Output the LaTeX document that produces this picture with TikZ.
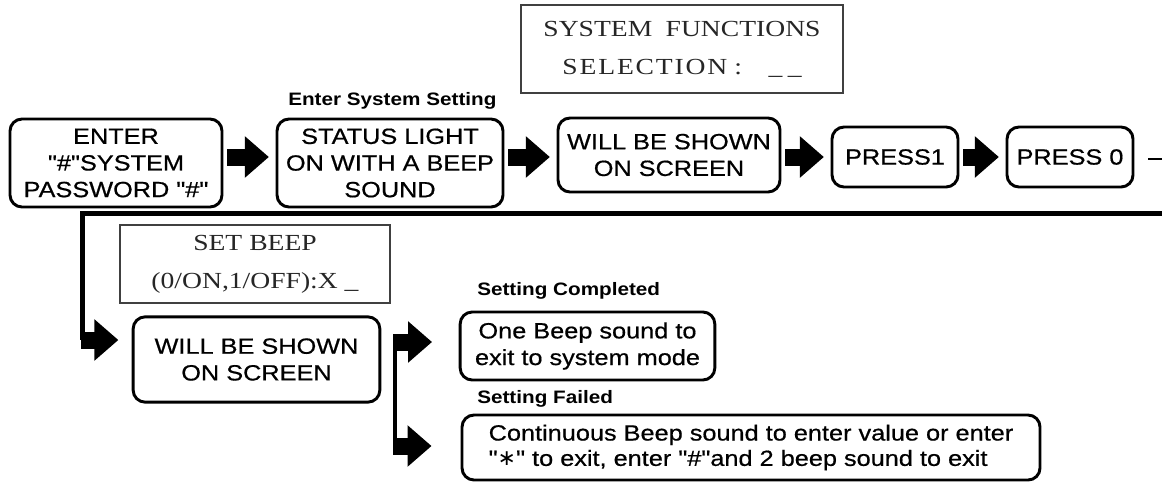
\documentclass[tikz,border=0pt]{standalone}
\usepackage{fontspec}
\usetikzlibrary{arrows.meta,calc}
\newfontfamily\boxfont[FakeStretch=1.15,FakeBold=0.6]{Liberation Sans}
\newfontfamily\labelfont[FakeStretch=1.15]{Liberation Sans}
\newfontfamily\lcdfont[FakeStretch=1.2]{Liberation Serif}
\newfontfamily\starfont{DejaVu Sans}
\tikzset{
  rbox/.style={draw, line width=2.2pt, rounded corners=9pt, inner sep=0pt, align=center,
    font=\boxfont\fontsize{16.5}{20}\selectfont},
  lcdbox/.style={draw=black!75, line width=1.1pt, inner sep=0pt, align=center,
    text=black!85, font=\lcdfont\fontsize{17.25}{28.5}\selectfont},
  steplabel/.style={anchor=base west, inner sep=0pt,
    font=\labelfont\bfseries\fontsize{13.5}{16}\selectfont},
  fatarrow/.style={line width=12.75pt, -{Triangle[length=18pt,width=30pt]},
    shorten <=3pt, shorten >=5pt},
  wire/.style={line width=3.5pt},
}
\begin{document}
\begin{tikzpicture}[x=0.75pt, y=-0.75pt]
  \useasboundingbox (0,0) rectangle (1162,482);
  % screen texts
  \node [lcdbox, minimum width=241.5pt, minimum height=66pt] (sel) at (682,49)
    {SYSTEM\hspace{10pt}FUNCTIONS\\{\addfontfeature{LetterSpace=8}SELECTION} :\hspace{20pt}\_\hspace{4pt}\_};
  \node [lcdbox, minimum width=202.5pt, minimum height=58.5pt] (setb) at (255,264)
    {SET BEEP\\(0/ON,1/OFF):X \_};
  % top row
  \node [rbox, minimum width=159pt, minimum height=66pt] (b1) at (116,163)
    {ENTER\\"\#"SYSTEM\\PASSWORD "\#"};
  \node [rbox, minimum width=169.5pt, minimum height=66pt] (b2) at (390,163)
    {STATUS LIGHT\\ON WITH A BEEP\\SOUND};
  \node [rbox, minimum width=166.5pt, minimum height=55.5pt] (b3) at (669,155)
    {WILL BE SHOWN\\ON SCREEN};
  \node [rbox, minimum width=94.5pt, minimum height=45pt] (p1) at (895,157) {PRESS1};
  \node [rbox, minimum width=94.5pt, minimum height=45pt] (p0) at (1070,157) {PRESS 0};
  \node [steplabel] (lset) at (288,105) {Enter System Setting};
  \draw [fatarrow] (b1.east |- p1.west) -- (b2.west |- p1.west);
  \draw [fatarrow] (b2.east |- p1.west) -- (b3.west |- p1.west);
  \draw [fatarrow] (b3.east |- p1.west) -- (p1.west);
  \draw [fatarrow] (p1.east) -- (p0.west);
  \coordinate (outR) at (1162,159);
  \draw [line width=1.1pt] ($(p0.east)+(14,2)$) -- (outR);
  % bottom part
  \node [rbox, minimum width=185pt, minimum height=64pt] (scr2) at (256.5,359.5)
    {WILL BE SHOWN\\ON SCREEN};
  \node [rbox, minimum width=191pt, minimum height=51pt] (ok) at (587.5,346)
    {One Beep sound to\\exit to system mode};
  \node [rbox, minimum width=433.5pt, minimum height=48.75pt, align=left,
    font=\boxfont\fontsize{16.5}{19}\selectfont] (fail) at (751,447.5)
    {Continuous Beep sound to enter value or enter\\"{\starfont ∗}" to exit, enter "\#"and 2 beep sound to exit};
  \node [steplabel] (ldone) at (477,295) {Setting Completed};
  \node [steplabel] (lfail) at (477,403) {Setting Failed};
  \coordinate (wrapR) at (1162,213.5);
  \coordinate (wrapL) at (82.5,213.5);
  \coordinate (inS) at (82.5,340);
  \draw [wire] (wrapR) -- (wrapL) -- (inS);
  \draw [fatarrow, shorten <=-1.5pt, shorten >=10pt] (inS) -- (inS -| scr2.west);
  \coordinate (brT) at (395,342);
  \coordinate (brB) at (395,446);
  \draw [wire] (brT) -- (brB);
  \draw [fatarrow, shorten <=-1.5pt, shorten >=20pt] (brT) -- (brT -| ok.west);
  \draw [fatarrow, shorten <=-1.5pt, shorten >=21.75pt] (brB) -- (brB -| fail.west);
\end{tikzpicture}
\end{document}
